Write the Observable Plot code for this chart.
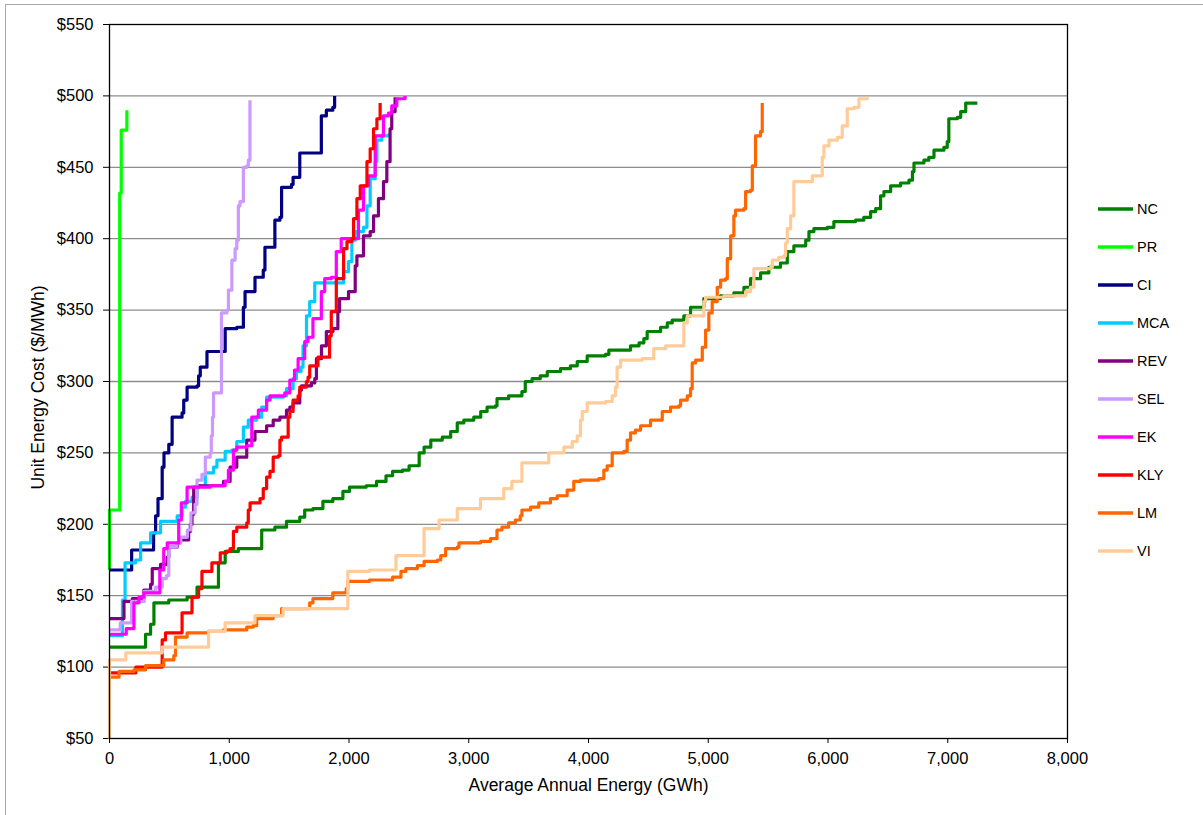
<!DOCTYPE html>
<html>
<head>
<meta charset="utf-8">
<script src="https://cdn.jsdelivr.net/npm/d3@7"></script>
<script src="https://cdn.jsdelivr.net/npm/@observablehq/plot@0.6"></script>
<style>
  html, body { margin: 0; padding: 0; background: #fff; }
  #wrap { position: relative; width: 1203px; height: 815px; overflow: hidden; font-family: Arial, "Liberation Sans", sans-serif; }
  #border { position: absolute; left: 5px; top: 4px; width: 1400px; height: 1000px; border-left: 1.5px solid #a8a8a8; border-top: 1.5px solid #a8a8a8; box-sizing: border-box; }
  #chart { position: absolute; left: 0; top: 0; }
  #legend { position: absolute; left: 1097px; top: 0; }
  .item { position: absolute; left: 0; width: 110px; height: 20px; display: flex; align-items: center; font-size: 14.5px; color: #000; }
  .item svg { margin-right: 4px; }
</style>
</head>
<body>
<div id="wrap">
  <div id="border"></div>
  <div id="chart"></div>
  <div id="legend"></div>
</div>
<script>
// ---- data: [Average Annual Energy (GWh), Unit Energy Cost ($/MWh)] ----
const seriesNames = ["NC", "PR", "CI", "MCA", "REV", "SEL", "EK", "KLY", "LM", "VI"];
const seriesColors = ["#008000", "#00ff00", "#000080", "#00ccff", "#800080", "#cc99ff", "#ff00ff", "#ff0000", "#ff6600", "#ffcc99"];
const xTicks = [0, 1000, 2000, 3000, 4000, 5000, 6000, 7000, 8000];
const yTicks = [50, 100, 150, 200, 250, 300, 350, 400, 450, 500, 550];

const NC = [[0,114],[301,123],[343,130],[371,145],[495,147],[648,149],[731,156],[910,173],[966,181],[1076,183],[1271,196],[1381,198],[1478,202],[1589,205],[1630,210],[1699,211],[1782,216],[1865,218],[1949,223],[2004,226],[2143,227],[2230,230],[2309,234],[2364,237],[2447,238],[2502,241],[2586,250],[2627,254],[2683,259],[2779,261],[2849,265],[2904,271],[2959,273],[3042,275],[3100,279],[3153,282],[3223,283],[3236,288],[3333,290],[3444,293],[3472,300],[3529,302],[3597,304],[3656,307],[3766,309],[3849,311],[3906,314],[3989,318],[4142,319],[4170,322],[4351,325],[4422,327],[4462,330],[4490,335],[4602,338],[4658,341],[4699,343],[4796,346],[4852,352],[4963,358],[5102,360],[5214,362],[5298,366],[5353,372],[5437,376],[5506,380],[5603,383],[5660,391],[5715,395],[5814,399],[5841,405],[5882,407],[5994,408],[6049,412],[6230,413],[6299,415],[6356,419],[6398,421],[6439,430],[6467,433],[6523,437],[6606,439],[6676,441],[6705,447],[6718,453],[6801,455],[6842,457],[6885,462],[6968,464],[6996,468],[7009,484],[7080,485],[7108,489],[7150,495],[7247,495]];
const PR = [[0,168],[0,210],[85,432],[98,476],[145,490]];
const CI = [[0,168],[185,182],[368,194],[385,206],[405,218],[440,240],[455,250],[495,256],[523,275],[606,278],[620,287],[648,296],[731,297],[744,304],[758,310],[814,321],[966,337],[1063,338],[1118,352],[1132,363],[1215,373],[1284,378],[1298,394],[1381,413],[1423,415],[1437,436],[1520,438],[1533,443],[1589,460],[1769,486],[1811,490],[1865,492],[1880,500]];
const MCA = [[0,122],[108,147],[130,173],[218,175],[260,187],[343,194],[426,202],[565,206],[606,212],[634,216],[689,219],[731,227],[800,236],[869,240],[897,245],[966,251],[1022,252],[1063,258],[1118,268],[1159,273],[1229,275],[1271,282],[1312,289],[1450,290],[1478,295],[1533,302],[1561,307],[1600,310],[1616,325],[1645,346],[1672,356],[1714,369],[1955,377],[1996,384],[2024,399],[2052,405],[2121,408],[2150,423],[2177,442],[2219,454],[2233,469],[2274,472],[2337,474]];
const REV = [[0,134],[121,146],[191,148],[287,154],[343,158],[357,169],[426,172],[482,177],[495,184],[565,187],[592,189],[661,195],[675,200],[689,207],[703,226],[744,227],[952,230],[1007,240],[1063,247],[1146,259],[1215,265],[1312,269],[1367,273],[1423,275],[1478,280],[1506,282],[1533,285],[1589,294],[1603,297],[1686,299],[1714,302],[1728,316],[1770,325],[1811,335],[1866,337],[1907,349],[1921,358],[1996,363],[2052,381],[2066,388],[2121,402],[2177,405],[2205,416],[2246,428],[2288,440],[2316,454],[2343,477],[2357,489],[2385,499]];
const SEL = [[0,126],[90,131],[185,146],[290,153],[385,156],[440,162],[475,164],[495,184],[560,187],[595,191],[650,196],[680,208],[715,214],[731,231],[772,235],[800,247],[841,250],[850,262],[860,275],[869,292],[935,348],[980,350],[993,364],[1022,385],[1049,393],[1063,399],[1076,423],[1090,426],[1118,450],[1146,451],[1159,455],[1173,497]];
const EK = [[0,123],[140,127],[204,145],[246,149],[287,152],[420,168],[453,183],[482,187],[578,203],[600,215],[648,226],[841,227],[966,230],[993,238],[1035,252],[1063,254],[1146,255],[1188,275],[1243,280],[1312,287],[1340,290],[1464,292],[1506,301],[1545,308],[1575,316],[1630,328],[1658,331],[1699,344],[1769,363],[1797,372],[1852,373],[1894,391],[1935,400],[2079,420],[2121,437],[2163,444],[2219,472],[2288,486],[2329,488],[2357,493],[2399,498],[2468,500]];
const KLY = [[0,96],[220,100],[440,119],[468,124],[606,138],[689,149],[744,155],[772,167],[855,173],[925,180],[980,181],[1007,183],[1035,195],[1063,198],[1146,201],[1159,210],[1174,215],[1257,218],[1284,225],[1312,233],[1340,237],[1367,247],[1409,248],[1423,259],[1437,261],[1492,275],[1506,279],[1533,287],[1575,290],[1589,296],[1644,300],[1658,303],[1672,311],[1741,317],[1838,332],[1852,349],[1894,372],[1955,393],[1983,398],[2024,400],[2038,414],[2066,428],[2094,437],[2150,454],[2177,463],[2205,477],[2233,484],[2260,495]];
const LM = [[0,93],[80,97],[204,98],[301,101],[453,105],[537,108],[551,121],[648,124],[827,125],[952,126],[1146,128],[1201,129],[1229,134],[1367,136],[1437,141],[1672,145],[1699,148],[1865,152],[1977,155],[1990,160],[2170,161],[2364,163],[2434,167],[2475,169],[2571,171],[2627,174],[2738,175],[2766,178],[2807,183],[2904,184],[2918,187],[3100,188],[3181,190],[3236,196],[3277,198],[3333,201],[3389,203],[3430,206],[3444,210],[3516,212],[3585,215],[3682,218],[3739,220],[3822,224],[3877,230],[3933,231],[4086,232],[4128,238],[4156,241],[4198,250],[4295,251],[4323,259],[4351,264],[4392,266],[4435,269],[4518,273],[4616,279],[4685,282],[4754,283],[4769,287],[4825,290],[4852,295],[4866,313],[4894,315],[4950,324],[4978,336],[5005,348],[5033,356],[5075,366],[5103,371],[5145,372],[5159,386],[5187,402],[5214,416],[5228,420],[5298,421],[5312,433],[5353,434],[5368,451],[5395,472],[5436,475],[5451,495]];
const VI = [[0,50],[0,105],[136,110],[440,114],[827,125],[966,131],[1215,136],[1450,141],[1990,167],[2170,168],[2392,178],[2627,197],[2752,203],[2904,211],[3098,218],[3292,225],[3360,230],[3444,243],[3668,250],[3794,254],[3864,258],[3906,262],[3933,273],[3948,279],[3989,285],[4142,286],[4198,290],[4225,296],[4239,310],[4268,315],[4449,316],[4545,323],[4644,325],[4796,341],[4825,346],[4963,356],[4978,359],[5131,360],[5312,363],[5353,366],[5381,379],[5520,380],[5535,385],[5589,387],[5631,388],[5646,397],[5660,407],[5688,416],[5715,440],[5869,444],[5952,457],[5966,465],[6008,469],[6078,471],[6119,479],[6161,491],[6217,492],[6258,498],[6328,499]];

const seriesData = [NC, PR, CI, MCA, REV, SEL, EK, KLY, LM, VI];

// tidy table for Plot
const rows = seriesNames.flatMap((name, i) =>
  seriesData[i].map(([energy, cost]) => ({ name, energy, cost }))
);

const chart = Plot.plot({
  width: 1203,
  height: 815,
  marginLeft: 109,
  marginRight: 136,
  marginTop: 24,
  marginBottom: 77,
  style: { fontFamily: "Arial, 'Liberation Sans', sans-serif", fontSize: "16.5px", color: "#000", background: "transparent" },
  x: { domain: [0, 8000] },
  y: { domain: [50, 550] },
  color: { domain: seriesNames, range: seriesColors },
  marks: [
    Plot.ruleY(yTicks.filter(d => d > 50 && d < 550), { stroke: "#8c8c8c", strokeWidth: 1.3 }),
    Plot.axisX({ ticks: xTicks, tickFormat: d3.format(","), tickSize: 5, tickPadding: 9, label: null, fontSize: 16.5, stroke: "#000" }),
    Plot.axisY({ ticks: yTicks, tickFormat: d => "$" + d, tickSize: 6, tickPadding: 10, label: null, fontSize: 16.5, stroke: "#000" }),
    Plot.line(rows, { x: "energy", y: "cost", z: "name", stroke: "name", curve: "step-after", strokeWidth: 3.2, strokeLinejoin: "round", strokeLinecap: "butt" }),
    Plot.frame({ stroke: "#000", strokeWidth: 1.3 }),
    Plot.text(["Average Annual Energy (GWh)"], { frameAnchor: "bottom", dy: 47, lineAnchor: "middle", textAnchor: "middle", fontSize: 17.5, fill: "#000" }),
    Plot.text(["Unit Energy Cost ($/MWh)"], { frameAnchor: "left", dx: -71, dy: 6, rotate: -90, lineAnchor: "middle", textAnchor: "middle", fontSize: 17.5, fill: "#000" })
  ]
});
document.getElementById("chart").appendChild(chart);

// legend (right side)
const legend = document.getElementById("legend");
seriesNames.forEach((name, i) => {
  const item = document.createElement("div");
  item.className = "item";
  item.style.top = (199 + 38 * i) + "px";
  item.innerHTML = `<svg width="36" height="6"><line x1="1" y1="3" x2="36" y2="3" stroke="${seriesColors[i]}" stroke-width="3.5"/></svg><span>${name}</span>`;
  legend.appendChild(item);
});
</script>
</body>
</html>
